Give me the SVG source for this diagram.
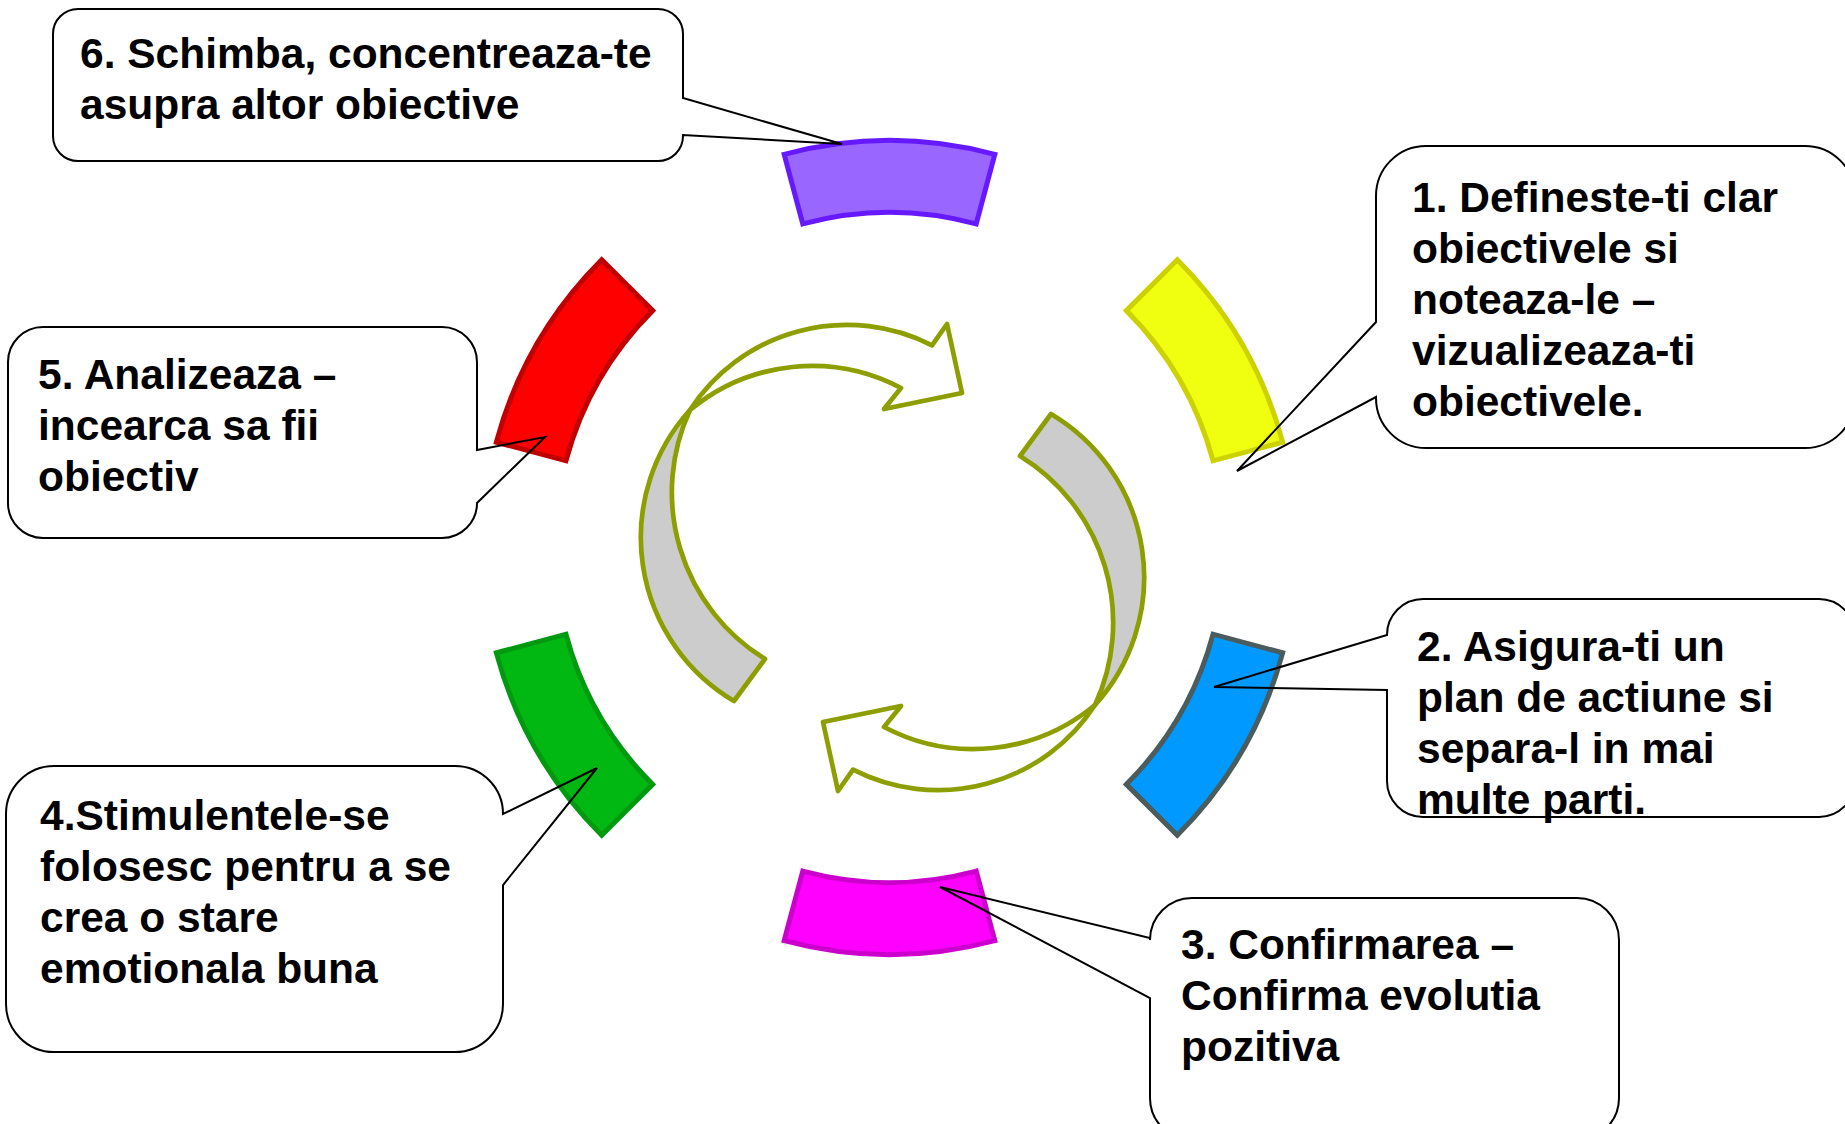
<svg xmlns="http://www.w3.org/2000/svg" width="1845" height="1124" viewBox="0 0 1845 1124">
<style>
.seg{stroke-width:5;stroke-linejoin:miter}
.callout{fill:none;stroke:#000;stroke-width:2;stroke-linejoin:miter}
.lbl{font-family:"Liberation Sans",Arial,sans-serif;font-weight:bold;font-size:42.5px;fill:#000}
.arr{stroke:#8C9E00;stroke-width:4.7;stroke-linejoin:round}
.band{fill:#CCCCCC}
.head{fill:#FFFFFF}
</style>
<defs>
<g id="cycleArrow">
<path class="arr band" d="M 734,701 A 190 190 0 0 1 690,410 A 195.7 195.7 0 0 0 765,659 Z"/>
<path class="arr head" d="M 690,410 A 187 187 0 0 1 932,345.4 L 947,324 L 962,393 L 884,409 L 901,388 A 190.8 190.8 0 0 0 690,410 Z"/>
</g>
</defs>
<rect width="1845" height="1124" fill="#fff"/>
<g id="connectors">
<use href="#cycleArrow"/>
<use href="#cycleArrow" transform="rotate(180 892.5 557.5)"/>
</g>
<g id="step1">
<path class="seg" fill="#F0FF10" stroke="#CCD200" d="M 1177.29,259.71 A 407 407 0 0 1 1282.63,442.16 L 1213.09,460.8 A 335 335 0 0 0 1126.38,310.62 Z"/>
<path class="callout" d="M 1426,146 H 1805 A 50 50 0 0 1 1855,196 V 398 A 50 50 0 0 1 1805,448 H 1426 A 50 50 0 0 1 1376,398 V 397 L 1237,471 L 1376,322 V 196 A 50 50 0 0 1 1426,146 Z"/>
<text class="lbl" x="1412" y="212">1. Defineste-ti clar</text>
<text class="lbl" x="1412" y="263">obiectivele si</text>
<text class="lbl" x="1412" y="314">noteaza-le –</text>
<text class="lbl" x="1412" y="365">vizualizeaza-ti</text>
<text class="lbl" x="1412" y="416">obiectivele.</text>
</g>
<g id="step2">
<path class="seg" fill="#0099FF" stroke="#4C5B5B" d="M 1282.63,652.84 A 407 407 0 0 1 1177.29,835.29 L 1126.38,784.38 A 335 335 0 0 0 1213.09,634.2 Z"/>
<path class="callout" d="M 1423,599 H 1819 A 36 36 0 0 1 1855,635 V 781 A 36 36 0 0 1 1819,817 H 1423 A 36 36 0 0 1 1387,781 V 690 L 1214,687 L 1387,635 A 36 36 0 0 1 1423,599 Z"/>
<text class="lbl" x="1417" y="661">2. Asigura-ti un</text>
<text class="lbl" x="1417" y="712">plan de actiune si</text>
<text class="lbl" x="1417" y="763">separa-l in mai</text>
<text class="lbl" x="1417" y="814">multe parti.</text>
</g>
<g id="step3">
<path class="seg" fill="#FF00FF" stroke="#CC00CC" d="M 994.84,940.63 A 407 407 0 0 1 784.16,940.63 L 802.8,871.09 A 335 335 0 0 0 976.2,871.09 Z"/>
<path class="callout" d="M 1192,898 H 1577 A 42 42 0 0 1 1619,940 V 1098 A 42 42 0 0 1 1577,1140 H 1192 A 42 42 0 0 1 1150,1098 V 998 L 940,887 L 1150,938 V 940 A 42 42 0 0 1 1192,898 Z"/>
<text class="lbl" x="1181" y="959">3. Confirmarea –</text>
<text class="lbl" x="1181" y="1010">Confirma evolutia</text>
<text class="lbl" x="1181" y="1061">pozitiva</text>
</g>
<g id="step4">
<path class="seg" fill="#00B811" stroke="#009910" d="M 601.71,835.29 A 407 407 0 0 1 496.37,652.84 L 565.91,634.2 A 335 335 0 0 0 652.62,784.38 Z"/>
<path class="callout" d="M 54,766 H 455 A 48 48 0 0 1 503,814 L 597,768 L 503,885 V 1004 A 48 48 0 0 1 455,1052 H 54 A 48 48 0 0 1 6,1004 V 814 A 48 48 0 0 1 54,766 Z"/>
<text class="lbl" x="40" y="830">4.Stimulentele-se</text>
<text class="lbl" x="40" y="881">folosesc pentru a se</text>
<text class="lbl" x="40" y="932">crea o stare</text>
<text class="lbl" x="40" y="983">emotionala buna</text>
</g>
<g id="step5">
<path class="seg" fill="#FF0000" stroke="#C00000" d="M 496.37,442.16 A 407 407 0 0 1 601.71,259.71 L 652.62,310.62 A 335 335 0 0 0 565.91,460.8 Z"/>
<path class="callout" d="M 43,327 H 442 A 35 35 0 0 1 477,362 V 450 L 545,437 L 477,503 A 35 35 0 0 1 442,538 H 43 A 35 35 0 0 1 8,503 V 362 A 35 35 0 0 1 43,327 Z"/>
<text class="lbl" x="38" y="389">5. Analizeaza –</text>
<text class="lbl" x="38" y="440">incearca sa fii</text>
<text class="lbl" x="38" y="491">obiectiv</text>
</g>
<g id="step6">
<path class="seg" fill="#9966FF" stroke="#6619FF" d="M 784.16,154.37 A 407 407 0 0 1 994.84,154.37 L 976.2,223.91 A 335 335 0 0 0 802.8,223.91 Z"/>
<path class="callout" d="M 78,9 H 658 A 25 25 0 0 1 683,34 V 98 L 842,144 L 683,135 V 136 A 25 25 0 0 1 658,161 H 78 A 25 25 0 0 1 53,136 V 34 A 25 25 0 0 1 78,9 Z"/>
<text class="lbl" x="80" y="68">6. Schimba, concentreaza-te</text>
<text class="lbl" x="80" y="119">asupra altor obiective</text>
</g>
</svg>
